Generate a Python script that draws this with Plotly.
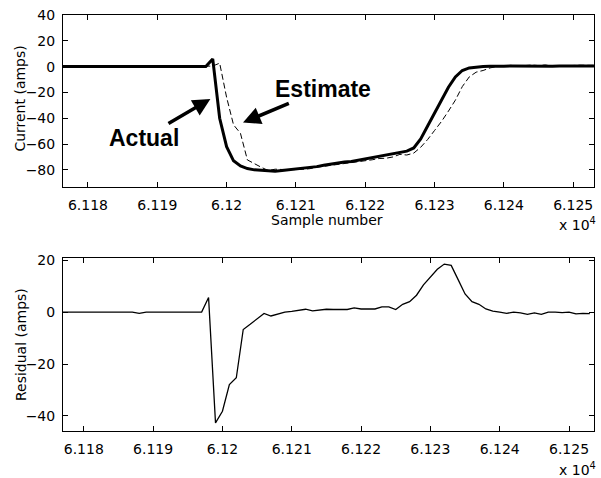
import plotly.graph_objects as go

# ---------------- data ----------------
samples = list(range(61176, 61254))

actual = ([0.0] * 21 +                                   # 61176..61196
          [0.0, 6.0, -40.0, -62.0, -73.0, -77.0, -79.0, -80.0, -80.5, -81.0,   # 61197..61206
           -81.0, -80.5, -80.0, -79.5, -79.0, -78.0, -77.5, -76.5, -75.5, -75.0,  # 61207..61216
           -74.0, -73.5, -72.5, -72.0, -71.0, -70.0, -69.0, -68.0, -67.0, -65.5,  # 61217..61226
           -63.0, -56.0, -46.0, -36.0, -26.0, -16.0, -8.0, -3.0, -1.0, -0.3,      # 61227..61236
           0.0, 0.2, 0.5, 0.3, 0.5, 0.4, 0.6, 0.3, 0.5, 0.4,                      # 61237..61246
           0.2, 0.5, 0.3, 0.6, 0.4, 0.5, 0.4])                                     # 61247..61253

estimate = ([0.0] * 12 + [0.5] + [0.0] * 8 +             # 61176..61196
            [0.0, 0.4, 2.7, -23.8, -45.1, -51.7, -72.3, -75.3, -78.0, -80.5,     # 61197..61206
             -79.5, -79.7, -80.0, -79.8, -79.6, -79.1, -78.0, -77.3, -76.6, -76.0, # 61207..61216
             -75.0, -74.5, -74.1, -73.2, -72.2, -71.2, -71.0, -70.0, -68.0, -68.5, # 61217..61226
             -67.0, -62.5, -56.5, -49.5, -42.5, -34.5, -26.0, -15.5, -8.0, -4.3,   # 61227..61236
             -3.0, -1.0, 0.1, 0.3, 1.0, 0.4, 0.9, 1.2, 0.8, 1.3,                  # 61237..61246
             0.2, 0.5, 0.5, 0.6, 1.1, 1.0, 1.0])                                   # 61247..61253

residual = ([0.0] * 12 + [-0.5] + [0.0] * 8 +            # 61176..61196
            [0.0, 5.6, -42.7, -38.2, -27.9, -25.3, -6.7, -4.7, -2.5, -0.5,       # 61197..61206
             -1.5, -0.8, 0.0, 0.3, 0.6, 1.1, 0.5, 0.8, 1.1, 1.0,                 # 61207..61216
             1.0, 1.0, 1.6, 1.2, 1.2, 1.2, 2.0, 2.0, 1.0, 3.0,                   # 61217..61226
             4.0, 6.5, 10.5, 13.5, 16.5, 18.5, 18.0, 12.5, 7.0, 4.0,             # 61227..61236
             3.0, 1.2, 0.4, 0.0, -0.5, 0.0, -0.3, -0.9, -0.3, -0.9,              # 61237..61246
             0.0, 0.0, -0.2, 0.0, -0.7, -0.5, -0.6])                              # 61247..61253

x_tick_vals = [61180, 61190, 61200, 61210, 61220, 61230, 61240, 61250]
x_tick_text = ["6.118", "6.119", "6.12", "6.121", "6.122", "6.123", "6.124", "6.125"]
top_y_ticks = [-80, -60, -40, -20, 0, 20, 40]
bottom_y_ticks = [-40, -20, 0, 20]

# ---------------- figure ----------------
tick_font = dict(family="DejaVu Sans", size=14, color="black")
title_font = dict(family="DejaVu Sans", size=14, color="black")

fig = go.Figure()
fig.add_trace(go.Scatter(x=samples, y=estimate, mode="lines",
                         line=dict(color="black", width=1, dash="6px,3px"),
                         xaxis="x", yaxis="y", showlegend=False))
fig.add_trace(go.Scatter(x=samples, y=actual, mode="lines",
                         line=dict(color="black", width=3),
                         xaxis="x", yaxis="y", showlegend=False))
fig.add_trace(go.Scatter(x=samples, y=residual, mode="lines",
                         line=dict(color="black", width=1.3),
                         xaxis="x2", yaxis="y2", showlegend=False))

axis_common = dict(showline=True, linecolor="black", linewidth=1, mirror="ticks",
                   ticks="inside", ticklen=5, tickcolor="black", tickwidth=1,
                   showgrid=False, zeroline=False, tickfont=tick_font)

fig.update_layout(
    width=601, height=478,
    margin=dict(l=63, r=7, t=15, b=47),
    paper_bgcolor="white", plot_bgcolor="white",
    xaxis=dict(axis_common, domain=[0, 1], anchor="y", range=[61176.4, 61253.0],
               tickmode="array", tickvals=x_tick_vals, ticktext=x_tick_text,
               ticklabelstandoff=5),
    yaxis=dict(axis_common, domain=[0.5865, 1], anchor="x", range=[-93.3, 40],
               tickmode="array", tickvals=top_y_ticks, ticklabelstandoff=4),
    xaxis2=dict(axis_common, domain=[0, 1], anchor="y2", range=[61177.0, 61253.6],
                tickmode="array", tickvals=x_tick_vals, ticktext=x_tick_text,
                ticklabelstandoff=5),
    yaxis2=dict(axis_common, domain=[0, 0.415], anchor="x2", range=[-45.8, 20.7],
                tickmode="array", tickvals=bottom_y_ticks, ticklabelstandoff=4),
)

ann = []
# axis titles
ann.append(dict(text="Current (amps)", xref="paper", yref="paper", x=-0.081, y=0.799,
                textangle=-90, showarrow=False, font=title_font,
                xanchor="center", yanchor="middle"))
ann.append(dict(text="Residual (amps)", xref="paper", yref="paper", x=-0.079, y=0.2067,
                textangle=-90, showarrow=False, font=title_font,
                xanchor="center", yanchor="middle"))
ann.append(dict(text="Sample number", xref="paper", yref="paper", x=0.4966, y=0.507,
                showarrow=False, font=title_font, xanchor="center", yanchor="middle"))
ann.append(dict(text="x 10<sup>4</sup>", xref="paper", yref="paper", x=0.9297, y=0.4976,
                showarrow=False, font=title_font, xanchor="left", yanchor="middle"))
ann.append(dict(text="x 10<sup>4</sup>", xref="paper", yref="paper", x=0.9297, y=-0.0913,
                showarrow=False, font=title_font, xanchor="left", yanchor="middle"))
# bold labels with their arrows (text sits at the arrow tail)
bold_font = dict(family="Liberation Sans", size=23, color="black")
ann.append(dict(text="<b>Actual</b>", xref="x", yref="y", x=61197.66, y=-25.1,
                ax=-66.7, ay=39, showarrow=True, arrowhead=2, arrowsize=1,
                arrowwidth=3.5, arrowcolor="black", font=bold_font))
ann.append(dict(text="<b>Estimate</b>", xref="x", yref="y", x=61202.37, y=-43.4,
                ax=80.2, ay=-33.8, showarrow=True, arrowhead=2, arrowsize=1,
                arrowwidth=3.5, arrowcolor="black", font=bold_font))
fig.update_layout(annotations=ann)

fig.write_html("out.html")
